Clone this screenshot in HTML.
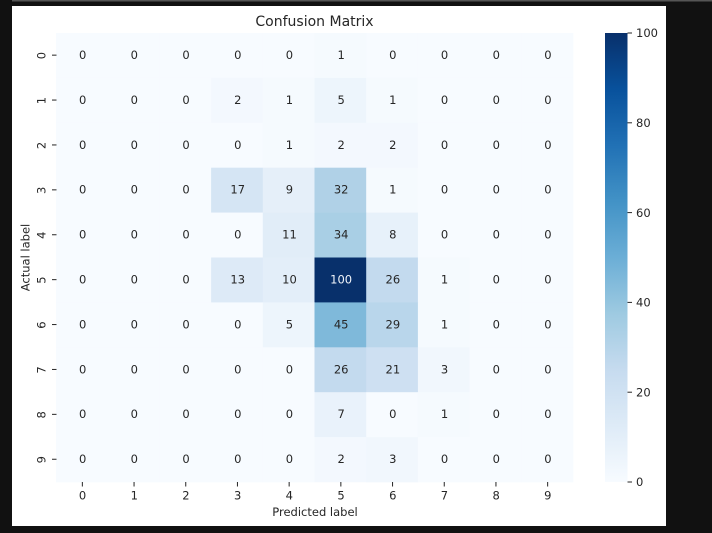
<!DOCTYPE html>
<html>
<head>
<meta charset="utf-8">
<style>
html,body{margin:0;padding:0;width:712px;height:533px;overflow:hidden;background:#111;}
svg{display:block;}
text{font-family:"DejaVu Sans","Liberation Sans",sans-serif;}
</style>
</head>
<body>
<svg id="chart" xmlns="http://www.w3.org/2000/svg" width="712" height="533" viewBox="0 0 712 533">
  <defs>
    <filter id="soften" x="-10%" y="-10%" width="120%" height="120%"><feGaussianBlur stdDeviation="0.3"/></filter>
  </defs>
  <rect x="0" y="0" width="712" height="533" fill="#111111"/>
  <rect x="12" y="0" width="700" height="1.5" fill="#555555"/>
  <rect x="12" y="6" width="654" height="520" fill="#ffffff"/>
  <text x="314.5" y="26" font-size="14" text-anchor="middle" fill="#262626" filter="url(#soften)">Confusion Matrix</text>
  <g id="cells"></g>
  <g id="annotations" filter="url(#soften)"></g>
  <g id="xaxis" filter="url(#soften)"></g>
  <g id="yaxis" filter="url(#soften)"></g>
  <text x="315" y="516" font-size="11.5" text-anchor="middle" fill="#262626" filter="url(#soften)">Predicted label</text>
  <text x="0" y="0" transform="translate(29.5 257.5) rotate(-90)" font-size="11.5" text-anchor="middle" fill="#262626" filter="url(#soften)">Actual label</text>
  <g id="colorbar"></g>
</svg>
<script>
var categories = ['0','1','2','3','4','5','6','7','8','9'];
var row0 = [0,0,0,0,0,1,0,0,0,0];
var row1 = [0,0,0,2,1,5,1,0,0,0];
var row2 = [0,0,0,0,1,2,2,0,0,0];
var row3 = [0,0,0,17,9,32,1,0,0,0];
var row4 = [0,0,0,0,11,34,8,0,0,0];
var row5 = [0,0,0,13,10,100,26,1,0,0];
var row6 = [0,0,0,0,5,45,29,1,0,0];
var row7 = [0,0,0,0,0,26,21,3,0,0];
var row8 = [0,0,0,0,0,7,0,1,0,0];
var row9 = [0,0,0,0,0,2,3,0,0,0];
var matrix = [row0,row1,row2,row3,row4,row5,row6,row7,row8,row9];
var colorbarTicks = [0,20,40,60,80,100];

var NS = 'http://www.w3.org/2000/svg';
var plotL = 56, plotR = 573, plotT = 33, plotB = 482;
var cbL = 605, cbR = 627.5;
var blues = ['#f7fbff','#deebf7','#c6dbef','#9ecae1','#6baed6','#4292c6','#2171b5','#08519c','#08306b'];

function maxValue() {
  var m = 0;
  matrix.forEach(function (r) { r.forEach(function (v) { if (v > m) m = v; }); });
  return m;
}
var vmax = maxValue();

function hex(c) {
  return [parseInt(c.substr(1,2),16), parseInt(c.substr(3,2),16), parseInt(c.substr(5,2),16)];
}
function colorFor(t) {
  t = Math.max(0, Math.min(1, t));
  var p = t * (blues.length - 1);
  var i = Math.min(Math.floor(p), blues.length - 2);
  var f = p - i;
  var a = hex(blues[i]), b = hex(blues[i + 1]);
  return 'rgb(' + Math.round(a[0] + (b[0] - a[0]) * f) + ',' +
    Math.round(a[1] + (b[1] - a[1]) * f) + ',' +
    Math.round(a[2] + (b[2] - a[2]) * f) + ')';
}
function xBand(i) { return plotL + (plotR - plotL) * i / categories.length; }
function yBand(i) { return plotT + (plotB - plotT) * i / categories.length; }
function cbY(v) { return plotB - (plotB - plotT) * v / vmax; }

function make(tag, attrs, parent, txt) {
  var el = document.createElementNS(NS, tag);
  for (var k in attrs) el.setAttribute(k, attrs[k]);
  if (txt !== undefined) el.textContent = txt;
  parent.appendChild(el);
  return el;
}

var cells = document.getElementById('cells');
var annotations = document.getElementById('annotations');
var xaxis = document.getElementById('xaxis');
var yaxis = document.getElementById('yaxis');
var colorbar = document.getElementById('colorbar');

matrix.forEach(function (row, r) {
  row.forEach(function (v, c) {
    var x0 = xBand(c), x1 = xBand(c + 1), y0 = yBand(r), y1 = yBand(r + 1);
    var rect = make('rect', {x: x0, y: y0, width: x1 - x0 + 0.3, height: y1 - y0 + 0.3, fill: colorFor(v / vmax)}, cells);
    
    
    var label = make('text', {x: (x0 + x1) / 2 + 0.8, y: (y0 + y1) / 2 - 0.6, dy: '0.36em', 'font-size': 11.5, 'text-anchor': 'middle',
      fill: v / vmax > 0.6 ? '#f0f4fa' : '#262626'}, annotations, String(v));
    
    
  });
});

categories.forEach(function (cat, i) {
  var xc = (xBand(i) + xBand(i + 1)) / 2 + 0.5;
  var xt = make('line', {x1: xc, x2: xc, y1: plotB, y2: plotB + 4.5, stroke: '#262626', 'stroke-width': 1}, xaxis);
  
  
  var xl = make('text', {x: xc + 0.2, y: plotB + 17.5, 'font-size': 11.5, 'text-anchor': 'middle', fill: '#262626'}, xaxis, cat);
  
  

  var yc = (yBand(i) + yBand(i + 1)) / 2 - 0.3;
  var yt = make('line', {x1: plotL - 4, x2: plotL + 0.5, y1: yc, y2: yc, stroke: '#262626', 'stroke-width': 1}, yaxis);
  
  
  var yl = make('text', {x: 0, y: 0, transform: 'translate(45.5 ' + (yc + 0.5) + ') rotate(-90)', 'font-size': 11.5, 'text-anchor': 'middle', fill: '#262626'}, yaxis, cat);
  
  
});

var defs = make('defs', {}, colorbar);
var grad = make('linearGradient', {id: 'blues-gradient', x1: 0, y1: 1, x2: 0, y2: 0}, defs);
blues.forEach(function (c, i) {
  make('stop', {offset: i / (blues.length - 1), 'stop-color': c}, grad);
});
var bar = make('rect', {x: cbL, y: plotT, width: cbR - cbL, height: plotB - plotT, fill: 'url(#blues-gradient)'}, colorbar);



colorbarTicks.forEach(function (v) {
  var y = cbY(v);
  var t = make('line', {x1: cbR, x2: cbR + 4.5, y1: y, y2: y, stroke: '#262626', 'stroke-width': 1}, colorbar);
  
  
  var l = make('text', {x: cbR + 8.5, y: y + 4.2, 'font-size': 11.5, fill: '#262626', filter: 'url(#soften)'}, colorbar, String(v));
  
  
});
</script>
</body>
</html>
